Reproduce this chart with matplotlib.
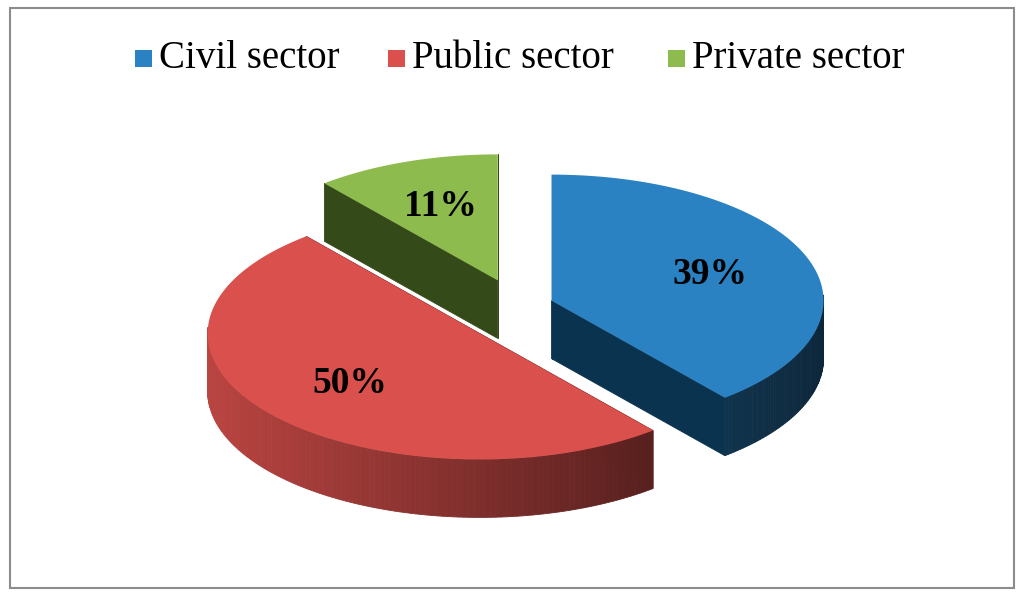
import numpy as np
import matplotlib.pyplot as plt
from matplotlib.colors import to_rgb
from matplotlib.patches import Polygon, Rectangle

labels = ['Civil sector', 'Public sector', 'Private sector']
shares = [39, 50, 11]
top_colors = ['#2A82C2', '#DA504C', '#8DBB4E']
side_colors = ['#0A3350', '#7A2522', '#344A18']

fig = plt.figure(figsize=(10.24, 6.02), dpi=100)
ax = fig.add_axes([0, 0, 1, 1])
ax.set_xlim(0, 1024)
ax.set_ylim(602, 0)
ax.axis('off')
ax.add_patch(Rectangle((10, 8), 1004, 580, fill=False, ec='#8c8c8c', lw=1.5))

cx, cy, rx, ry, depth, expl = 512, 312, 272, 126, 58, 42


def pt(a, ox, oy, r=1.0):
    return ox + r * rx * np.cos(a), oy - r * ry * np.sin(a)


# angles clockwise from 12 o'clock
bounds = np.cumsum([0] + shares) / 100.0 * 2 * np.pi
wedges = []
for i in range(len(shares)):
    a0 = np.pi / 2 - bounds[i]
    a1 = np.pi / 2 - bounds[i + 1]
    mid = (a0 + a1) / 2
    ox = cx + expl * np.cos(mid)
    oy = cy - expl * 0.8 * np.sin(mid)
    wedges.append((i, a0, a1, mid, ox, oy))

# back to front
wedges.sort(key=lambda w: np.sin(w[3]), reverse=True)

for i, a0, a1, mid, ox, oy in wedges:
    angs = np.linspace(a0, a1, 160)
    arc = np.array([pt(a, ox, oy) for a in angs])
    pieces = []
    for a in (a0, a1):
        x, y = pt(a, ox, oy)
        poly = [(ox, oy), (x, y), (x, y + depth), (ox, oy + depth)]
        pieces.append((0, poly, side_colors[i]))
    base = np.array(to_rgb(top_colors[i]))
    for k in range(len(arc) - 1):
        am = (angs[k] + angs[k + 1]) / 2
        if np.sin(am) > 0.05:
            continue
        (x1, y1), (x2, y2) = arc[k], arc[k + 1]
        poly = [(x1, y1), (x2, y2), (x2, y2 + depth), (x1, y1 + depth)]
        # lighter on the left, darker on the right
        t = (np.cos(am) + 1) / 2
        col = base * (0.85 - 0.55 * t)
        pieces.append((1, poly, tuple(np.clip(col, 0, 1))))
    pieces.sort(key=lambda p: p[0])
    for _, poly, col in pieces:
        ax.add_patch(Polygon(poly, closed=True, fc=col, ec=col, lw=0.6))
    top = [(ox, oy)] + [tuple(p) for p in arc]
    ax.add_patch(Polygon(top, closed=True, fc=top_colors[i], ec='none'))
    lx, ly = pt(mid, ox, oy, 0.62)
    ax.text(lx, ly, f'{shares[i]}%', ha='center', va='center', fontsize=27,
            fontweight='bold', family='Liberation Serif')

# legend
xs = [152, 405, 685]
for i, lab in enumerate(labels):
    ax.add_patch(Rectangle((xs[i] - 17, 50), 17, 17, fc=top_colors[i], ec='none'))
    ax.text(xs[i] + 7, 58, lab, ha='left', va='center', fontsize=28,
            family='Liberation Serif')

fig.savefig('out.png', dpi=100)
